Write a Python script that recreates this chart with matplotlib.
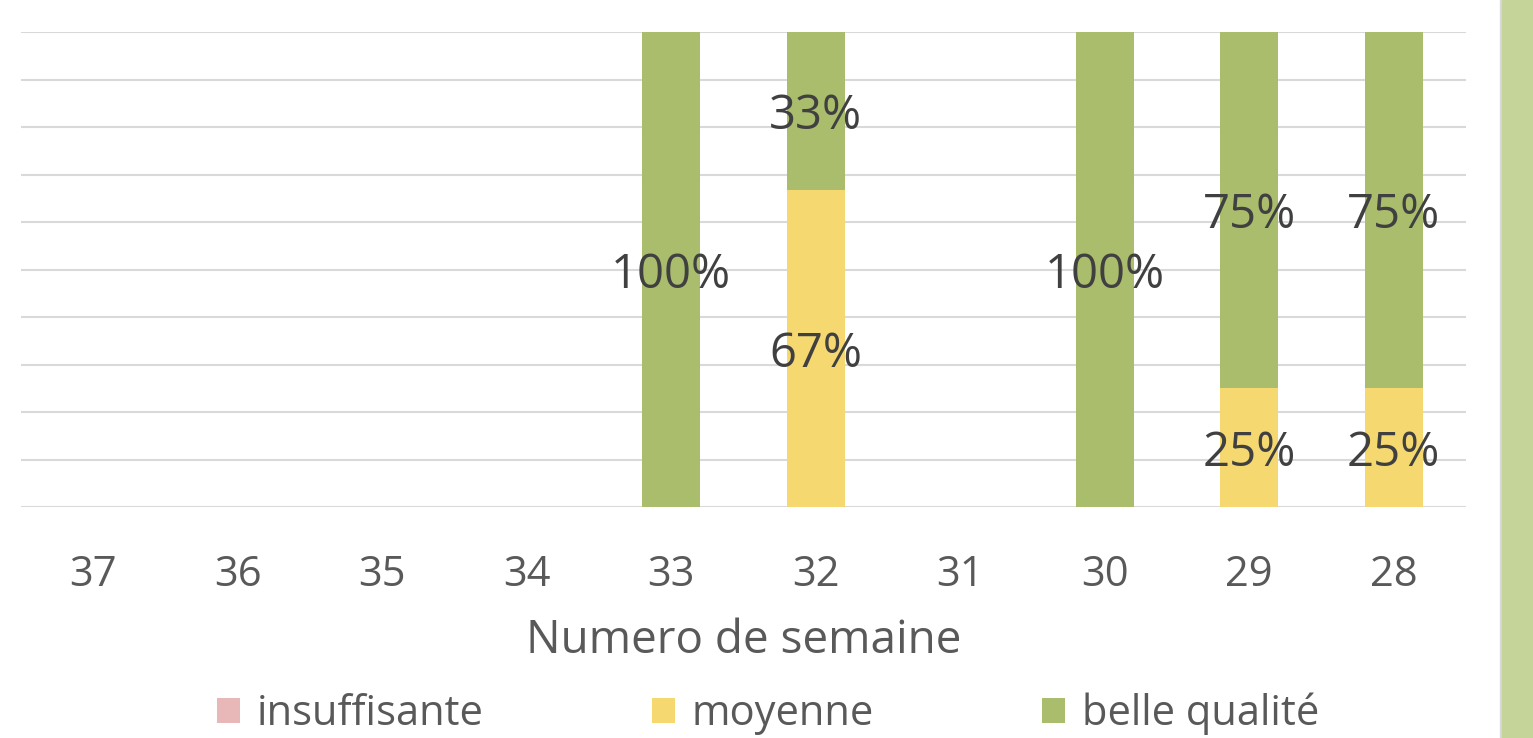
import matplotlib
matplotlib.use("Agg")
import matplotlib.pyplot as plt
from matplotlib.patches import Rectangle

plt.rcParams['font.family'] = ['Open Sans', 'DejaVu Sans']

weeks = ['37', '36', '35', '34', '33', '32', '31', '30', '29', '28']
insuffisante = [0, 0, 0, 0, 0, 0, 0, 0, 0, 0]
moyenne = [0, 0, 0, 0, 0, 0.667, 0, 0, 0.25, 0.25]
belle = [0, 0, 0, 0, 1.0, 0.333, 0, 1.0, 0.75, 0.75]
series_names = ['insuffisante', 'moyenne', 'belle qualité']
colors = ['#E8B8B8', '#F5D970', '#A9BD6D']

W, H = 1533, 738
fig = plt.figure(figsize=(W / 100, H / 100), dpi=100)
ax = fig.add_axes([21 / W, 1 - 507 / H, (1466 - 21) / W, (507 - 32) / H])

x = list(range(len(weeks)))
bottom = [0] * len(weeks)
handles = []
for vals, name, col in zip([insuffisante, moyenne, belle], series_names, colors):
    bars = ax.bar(x, vals, width=0.4, bottom=bottom, color=col, label=name, zorder=3)
    handles.append(bars)
    for xi, v, b in zip(x, vals, bottom):
        if v > 0:
            ax.text(xi, b + v / 2, f"{round(v * 100):.0f}%", ha='center', va='center_baseline',
                    fontsize=34, color='#404040', zorder=4)
    bottom = [b + v for b, v in zip(bottom, vals)]

ax.set_xlim(-0.5, len(weeks) - 0.5)
ax.set_ylim(0, 1)
ax.set_yticks([i / 10 for i in range(11)])
ax.yaxis.grid(True, color='#D9D9D9', linewidth=1.5, zorder=0)
ax.tick_params(axis='y', left=False, labelleft=False)
ax.set_xticks(x)
ax.set_xticklabels(weeks, fontsize=30, color='#595959')
ax.tick_params(axis='x', length=0, pad=34)
for s in ax.spines.values():
    s.set_visible(False)
ax.set_xlabel('Numero de semaine', fontsize=33, color='#595959', labelpad=16)

fig.legend(handles=handles, labels=series_names, loc='center', bbox_to_anchor=(768 / W, 1 - 714 / H),
           ncol=3, frameon=False, fontsize=30, handlelength=0.55, handleheight=0.55,
           handletextpad=0.4, columnspacing=4.05, labelcolor='#595959')

fig.patches.append(Rectangle((1500 / W, 0), 2 / W, 1, transform=fig.transFigure,
                             color='#D9D9D9', zorder=0))
fig.patches.append(Rectangle((1502 / W, 0), 31 / W, 1, transform=fig.transFigure,
                             color='#C5D59A', zorder=0))

fig.savefig('out.png', dpi=100)
